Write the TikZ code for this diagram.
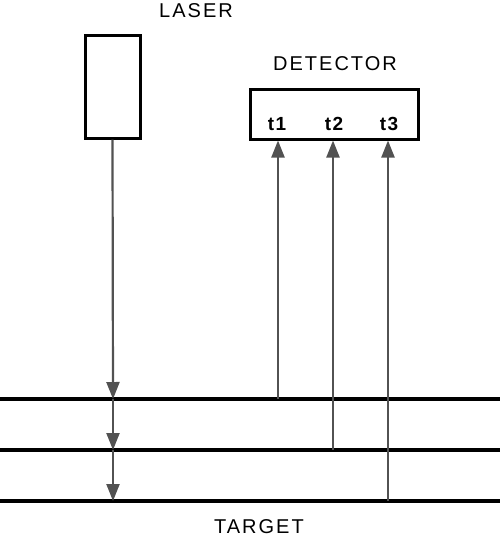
\documentclass[tikz,border=0pt]{standalone}
\usepackage{fontspec}
\setmainfont{Liberation Sans}
\usetikzlibrary{arrows.meta}

\tikzstyle{device} = [draw, line width=3pt, inner sep=0pt]
\tikzstyle{layer} = [line width=3.5pt]
\tikzstyle{ray} = [draw=black!68, line width=2.2pt, -{Triangle[length=17pt,width=13pt]}]
\tikzstyle{label} = [anchor=base, inner sep=0pt, font=\fontsize{20}{22}\selectfont\addfontfeature{LetterSpace=10}]
\tikzstyle{stamp} = [anchor=base, inner sep=0pt, font=\bfseries\fontsize{19}{22}\selectfont\addfontfeature{LetterSpace=8}]

\begin{document}
\begin{tikzpicture}[x=1pt,y=-1pt]
	\useasboundingbox (0,0) rectangle (500,536);

	\node[device, minimum width=55pt, minimum height=103pt] (laser) at (112.5,86.5) {};
	\node[label] (lasertext) at (196,17) {LASER};

	\node[device, minimum width=168pt, minimum height=50pt] (det) at (334,114) {};
	\node[label] (dettext) at (335,70) {DETECTOR};
	\node[stamp] (t1) at (277,130) {t1};
	\node[stamp] (t2) at (334,130) {t2};
	\node[stamp] (t3) at (389,130) {t3};

	\coordinate (l1a) at (0,399);
	\coordinate (l1b) at (500,399);
	\coordinate (l2a) at (0,450);
	\coordinate (l2b) at (500,450);
	\coordinate (l3a) at (0,501);
	\coordinate (l3b) at (500,501);

	\draw[layer] (l1a) -- (l1b);
	\draw[layer] (l2a) -- (l2b);
	\draw[layer] (l3a) -- (l3b);

	\node[label] (target) at (259,533) {TARGET};

	\coordinate (h1) at (113,399);
	\coordinate (h2) at (113,450);
	\coordinate (h3) at (113,501);

	\draw[ray] (laser.south) -- (h1);
	\draw[ray] (h1) -- (h2);
	\draw[ray] (h2) -- (h3);

	\coordinate (r1) at (278,399);
	\coordinate (r2) at (333,450);
	\coordinate (r3) at (388,501);

	\draw[ray] (r1) -- (det.south -| r1);
	\draw[ray] (r2) -- (det.south -| r2);
	\draw[ray] (r3) -- (det.south -| r3);
\end{tikzpicture}
\end{document}
